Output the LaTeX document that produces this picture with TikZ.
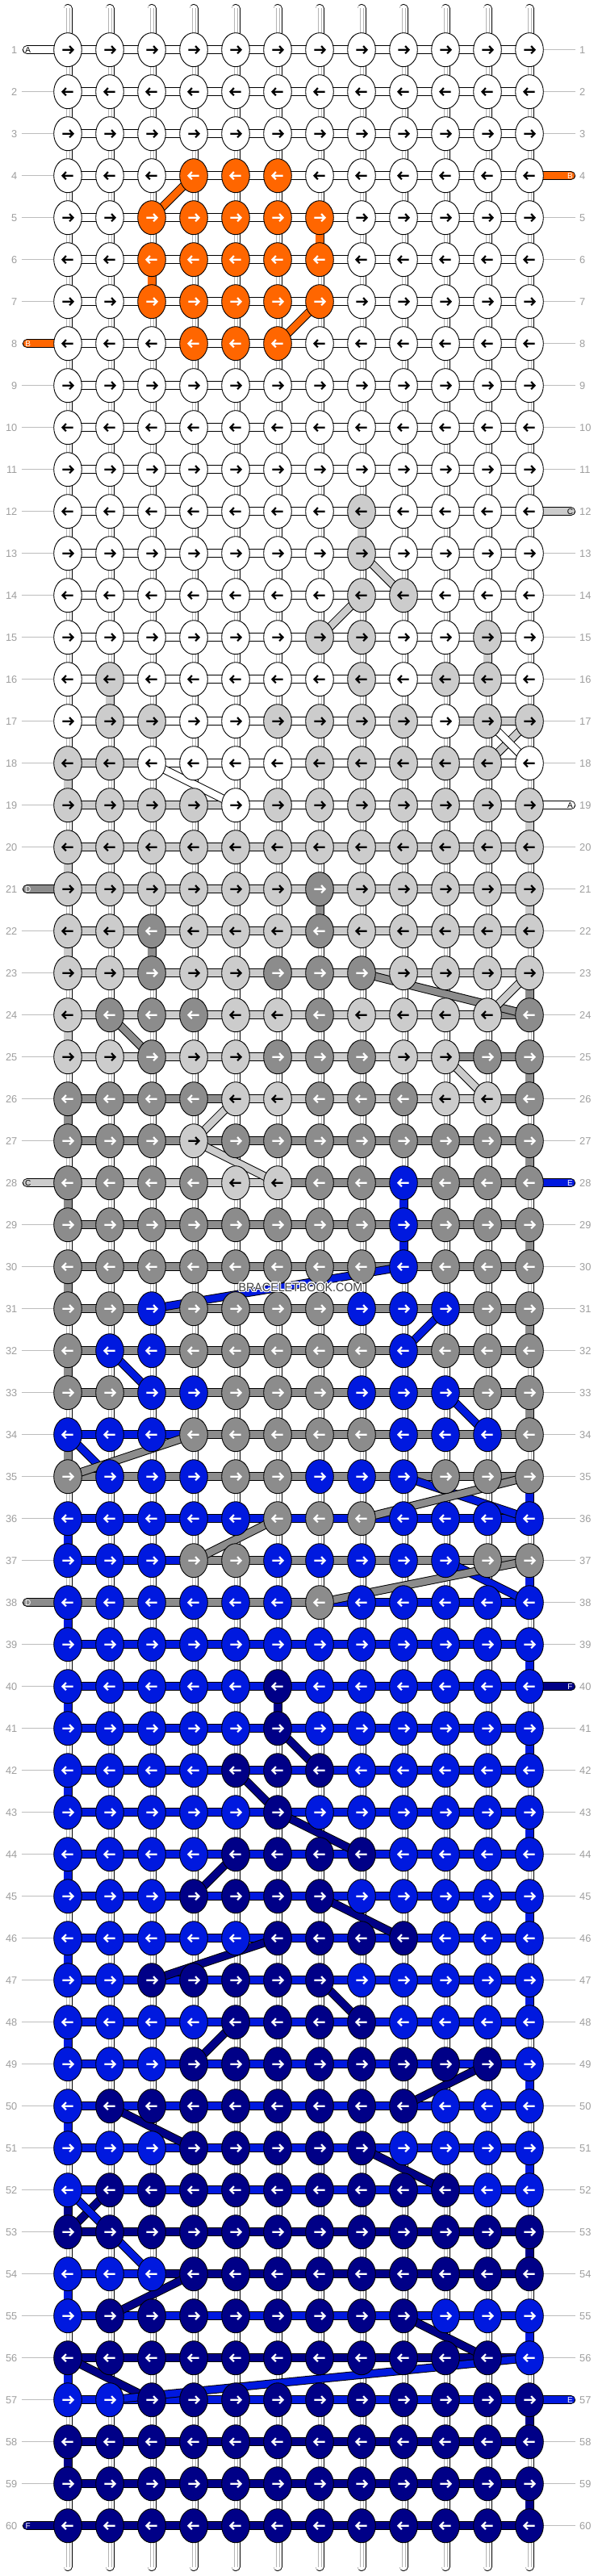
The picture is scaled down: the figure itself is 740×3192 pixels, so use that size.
\documentclass[tikz,border=0pt]{standalone}
\usepackage{fontspec}
\setmainfont{Liberation Sans}
\usetikzlibrary{shapes.geometric}
\definecolor{cW}{HTML}{FFFFFF}
\definecolor{cO}{HTML}{FF6600}
\definecolor{cL}{HTML}{CCCCCC}
\definecolor{cD}{HTML}{8C8C8C}
\definecolor{cB}{HTML}{0019DF}
\definecolor{cN}{HTML}{000087}
\colorlet{aW}{black}\colorlet{aL}{black}\colorlet{aO}{white}
\colorlet{aD}{white}\colorlet{aB}{white}\colorlet{aN}{white}
\definecolor{labgray}{HTML}{9E9E9E}
\definecolor{linegray}{HTML}{BDBDBD}
\definecolor{strand}{HTML}{B4B4B4}
\definecolor{wmark}{HTML}{404040}
\pgfdeclarelayer{bg}\pgfdeclarelayer{conn}\pgfdeclarelayer{diag}
\pgfsetlayers{bg,conn,diag,main}
\tikzset{
 knot/.style={ellipse, draw=black, line width=0.9pt, minimum width=34.6pt, minimum height=42pt, inner sep=0pt, outer sep=0pt},
 arrowline/.style={line width=2.2pt, line cap=butt, line join=miter},
 barout/.style={line width=11pt, draw=black},
 barin/.style={line width=9.2pt},
 capout/.style={line width=11pt, draw=black, line cap=round},
 capin/.style={line width=9.2pt, line cap=round},
 diagout/.style={line width=10.5pt, draw=black},
 diagin/.style={line width=8.5pt},
 strandline/.style={draw=strand, line width=0.8pt},
 rownum/.style={font=\fontsize{12.8}{13}\selectfont, text=labgray, inner sep=0pt},
 labline/.style={draw=linegray, line width=0.9pt},
 stubletter/.style={font=\fontsize{10}{11}\selectfont, inner sep=0pt},
 wmtext/.style={font=\fontsize{15}{15}\selectfont, inner sep=0pt, xscale=0.95},
}
\begin{document}
\begin{tikzpicture}[x=1pt,y=-1pt]
\useasboundingbox (0,0) rectangle (740,3192);
\begin{pgfonlayer}{bg}
\fill[white] (0,0) rectangle (740,3192);
\end{pgfonlayer}
% grid points
\foreach \r in {1,...,60}{
 \foreach \k in {1,...,12}{
  \coordinate (p-\r-\k) at ({84+52*(\k-1)},{61.7+52*(\r-1)});
 }
}
\foreach \k in {1,...,12}{
  \coordinate (t-\k) at ({84+52*(\k-1)},10.5);
  \coordinate (b-\k) at ({84+52*(\k-1)},3180.5);
}
% knots
\foreach \r/\cols in {
1/{W,W,W,W,W,W,W,W,W,W,W,W},
2/{W,W,W,W,W,W,W,W,W,W,W,W},
3/{W,W,W,W,W,W,W,W,W,W,W,W},
4/{W,W,W,O,O,O,W,W,W,W,W,W},
5/{W,W,O,O,O,O,O,W,W,W,W,W},
6/{W,W,O,O,O,O,O,W,W,W,W,W},
7/{W,W,O,O,O,O,O,W,W,W,W,W},
8/{W,W,W,O,O,O,W,W,W,W,W,W},
9/{W,W,W,W,W,W,W,W,W,W,W,W},
10/{W,W,W,W,W,W,W,W,W,W,W,W},
11/{W,W,W,W,W,W,W,W,W,W,W,W},
12/{W,W,W,W,W,W,W,L,W,W,W,W},
13/{W,W,W,W,W,W,W,L,W,W,W,W},
14/{W,W,W,W,W,W,W,L,L,W,W,W},
15/{W,W,W,W,W,W,L,L,W,W,L,W},
16/{W,L,W,W,W,W,W,L,W,L,L,W},
17/{W,L,L,W,W,L,L,L,L,W,L,L},
18/{L,L,W,W,W,W,L,L,L,L,L,W},
19/{L,L,L,L,W,L,L,L,L,L,L,L},
20/{L,L,L,L,L,L,L,L,L,L,L,L},
21/{L,L,L,L,L,L,D,L,L,L,L,L},
22/{L,L,D,L,L,L,D,L,L,L,L,L},
23/{L,L,D,L,L,D,D,D,L,L,L,L},
24/{L,D,D,D,L,L,D,L,L,L,L,D},
25/{L,L,D,L,L,D,D,D,L,L,D,D},
26/{D,D,D,D,L,L,D,D,D,L,L,D},
27/{D,D,D,L,D,D,D,D,D,D,D,D},
28/{D,D,D,D,L,L,D,D,B,D,D,D},
29/{D,D,D,D,D,D,D,D,B,D,D,D},
30/{D,D,D,D,D,D,D,D,B,D,D,D},
31/{D,D,B,D,D,D,D,B,B,B,D,D},
32/{D,B,B,D,D,D,D,D,B,D,D,D},
33/{D,D,B,B,D,D,D,B,B,B,D,D},
34/{B,B,B,D,D,D,D,D,B,B,B,D},
35/{D,B,B,B,D,D,B,B,B,D,D,D},
36/{B,B,B,B,B,D,D,D,B,B,B,B},
37/{B,B,B,D,D,B,B,B,B,B,D,D},
38/{B,B,B,B,B,B,D,B,B,B,B,B},
39/{B,B,B,B,B,B,B,B,B,B,B,B},
40/{B,B,B,B,B,N,B,B,B,B,B,B},
41/{B,B,B,B,B,N,B,B,B,B,B,B},
42/{B,B,B,B,N,N,N,B,B,B,B,B},
43/{B,B,B,B,B,N,B,B,B,B,B,B},
44/{B,B,B,B,N,N,N,N,B,B,B,B},
45/{B,B,B,N,N,N,N,B,B,B,B,B},
46/{B,B,B,B,B,N,N,N,N,B,B,B},
47/{B,B,N,N,N,N,N,B,B,B,B,B},
48/{B,B,B,B,N,N,N,N,B,B,B,B},
49/{B,B,B,N,N,N,N,N,N,N,N,B},
50/{B,N,N,N,N,N,N,N,N,B,B,B},
51/{B,B,B,N,N,N,N,N,B,B,B,B},
52/{B,N,N,N,N,N,N,N,N,N,B,B},
53/{N,N,N,N,N,N,N,N,N,N,N,N},
54/{B,B,B,N,N,N,N,N,N,N,N,N},
55/{B,N,N,N,N,N,N,N,N,B,B,B},
56/{N,N,N,N,N,N,N,N,N,N,N,B},
57/{B,B,N,N,N,N,N,N,N,N,N,N},
58/{N,N,N,N,N,N,N,N,N,N,N,N},
59/{N,N,N,N,N,N,N,N,N,N,N,N},
60/{N,N,N,N,N,N,N,N,N,N,N,N}}{
  \pgfmathsetmacro\dir{ifthenelse(mod(\r,2)==1,1,-1)}
  \foreach \c [count=\k] in \cols {
    \node[knot, fill=c\c] (k-\r-\k) at (p-\r-\k) {};
    \draw[arrowline, draw=a\c, shift={(p-\r-\k)}, xscale=\dir] (-6.7,0) -- (5.6,0) (2.1,-4.6) -- (6.5,0) -- (2.1,4.6);
  }
}
% row labels
\foreach \r in {1,...,60}{
  \node[rownum, anchor=east] (ll-\r) at ([xshift=-62.5pt]p-\r-1) {\r};
  \node[rownum, anchor=west] (lr-\r) at ([xshift=62pt]p-\r-12) {\r};
}
\begin{pgfonlayer}{conn}
% label lines
\foreach \r in {1,...,60}{
  \draw[labline] ([xshift=-57.3pt]p-\r-1) -- (k-\r-1);
  \draw[labline] (k-\r-12) -- ([xshift=57pt]p-\r-12);
}
% top and bottom thread ends
\foreach \k in {1,...,12}{
  \draw[capout] (t-\k) -- (k-1-\k.center);
  \draw[capin, white] (t-\k) -- (k-1-\k.center);
  \draw[strandline] ([xshift=-2pt]t-\k) -- ([xshift=-2pt]k-1-\k.center) ([xshift=2pt]t-\k) -- ([xshift=2pt]k-1-\k.center);
  \draw[capout] (k-60-\k.center) -- (b-\k);
  \draw[capin, white] (k-60-\k.center) -- (b-\k);
  \draw[strandline] ([xshift=-2pt]k-60-\k.center) -- ([xshift=-2pt]b-\k) ([xshift=2pt]k-60-\k.center) -- ([xshift=2pt]b-\k);
}
% vertical connectors
\foreach \r in {1,...,59}{
  \pgfmathtruncatemacro\rn{\r+1}
  \foreach \k in {1,...,12}{
    \draw[barout] (k-\r-\k.center) -- (k-\rn-\k.center);
    \draw[barin, white] (k-\r-\k.center) -- (k-\rn-\k.center);
    \draw[strandline] ([xshift=-2pt]k-\r-\k.center) -- ([xshift=-2pt]k-\rn-\k.center) ([xshift=2pt]k-\r-\k.center) -- ([xshift=2pt]k-\rn-\k.center);
  }
}
% filled vertical connectors
\foreach \r/\k/\c in {5/7/O,6/3/O,12/8/L,15/11/L,16/2/L,21/7/D,22/3/D,28/9/B,29/9/B,40/6/N,
18/1/L,19/12/L,20/1/L,21/12/L,22/1/L,23/12/D,24/1/L,25/12/D,26/1/D,27/12/D,28/1/D,29/12/D,30/1/D,31/12/D,32/1/D,33/12/D,34/1/D,35/12/B,36/1/B,37/12/B,38/1/B,39/12/B,40/1/B,41/12/B,42/1/B,43/12/B,44/1/B,45/12/B,46/1/B,47/12/B,48/1/B,49/12/B,50/1/B,51/12/B,52/1/N,53/12/N,54/1/B,55/12/B,56/1/B,57/12/N,58/1/N,59/12/N}{
  \pgfmathtruncatemacro\rn{\r+1}
  \draw[barin, draw=c\c] (k-\r-\k.center) -- (k-\rn-\k.center);
}
% horizontal connectors
\foreach \r/\cols in {
1/{W,W,W,W,W,W,W,W,W,W,W},
2/{W,W,W,W,W,W,W,W,W,W,W},
3/{W,W,W,W,W,W,W,W,W,W,W},
4/{W,W,W,W,W,W,W,W,W,W,W},
5/{W,W,W,W,W,W,W,W,W,W,W},
6/{W,W,W,W,W,W,W,W,W,W,W},
7/{W,W,W,W,W,W,W,W,W,W,W},
8/{W,W,W,W,W,W,W,W,W,W,W},
9/{W,W,W,W,W,W,W,W,W,W,W},
10/{W,W,W,W,W,W,W,W,W,W,W},
11/{W,W,W,W,W,W,W,W,W,W,W},
12/{W,W,W,W,W,W,W,W,W,W,W},
13/{W,W,W,W,W,W,W,W,W,W,W},
14/{W,W,W,W,W,W,W,W,W,W,W},
15/{W,W,W,W,W,W,W,W,W,W,W},
16/{W,W,W,W,W,W,W,W,W,W,W},
17/{W,W,W,W,W,W,W,W,W,L,L},
18/{L,L,W,W,W,W,W,W,W,W,W},
19/{L,L,L,L,W,W,W,W,W,W,W},
20/{L,L,L,L,L,L,L,L,L,L,L},
21/{L,L,L,L,L,L,L,L,L,L,L},
22/{L,L,L,L,L,L,L,L,L,L,L},
23/{L,L,L,L,L,L,L,L,L,L,L},
24/{L,L,L,L,L,L,L,L,L,L,D},
25/{L,L,L,L,L,L,L,L,L,D,D},
26/{D,D,D,D,L,L,L,L,L,L,D},
27/{D,D,D,D,D,D,D,D,D,D,D},
28/{L,L,L,L,L,D,D,D,D,D,D},
29/{D,D,D,D,D,D,D,D,D,D,D},
30/{D,D,D,D,D,D,D,D,D,D,D},
31/{D,D,D,D,D,D,D,D,D,D,D},
32/{D,D,D,D,D,D,D,D,D,D,D},
33/{D,D,D,D,D,D,D,D,D,D,D},
34/{B,B,B,D,D,D,D,D,D,D,D},
35/{D,D,D,D,D,D,D,D,D,D,D},
36/{B,B,B,B,B,B,B,B,B,B,B},
37/{B,B,B,D,D,D,D,D,D,D,D},
38/{D,D,D,D,D,D,B,B,B,B,B},
39/{B,B,B,B,B,B,B,B,B,B,B},
40/{B,B,B,B,B,B,B,B,B,B,B},
41/{B,B,B,B,B,B,B,B,B,B,B},
42/{B,B,B,B,B,B,B,B,B,B,B},
43/{B,B,B,B,B,B,B,B,B,B,B},
44/{B,B,B,B,B,B,B,B,B,B,B},
45/{B,B,B,B,B,B,B,B,B,B,B},
46/{B,B,B,B,B,B,B,B,B,B,B},
47/{B,B,B,B,B,B,B,B,B,B,B},
48/{B,B,B,B,B,B,B,B,B,B,B},
49/{B,B,B,B,B,B,B,B,B,B,B},
50/{B,B,B,B,B,B,B,B,B,B,B},
51/{B,B,B,B,B,B,B,B,B,B,B},
52/{B,B,B,B,B,B,B,B,B,B,B},
53/{N,N,N,N,N,N,N,N,N,N,N},
54/{B,B,N,N,N,N,N,N,N,N,N},
55/{B,B,B,B,B,B,B,B,B,B,B},
56/{N,N,N,N,N,N,N,N,N,N,N},
57/{B,B,B,B,B,B,B,B,B,B,B},
58/{N,N,N,N,N,N,N,N,N,N,N},
59/{N,N,N,N,N,N,N,N,N,N,N},
60/{N,N,N,N,N,N,N,N,N,N,N}}{
  \foreach \c [count=\k] in \cols {
    \pgfmathtruncatemacro\kn{\k+1}
    \draw[barout] (k-\r-\k.center) -- (k-\r-\kn.center);
    \draw[barin, draw=c\c] (k-\r-\k.center) -- (k-\r-\kn.center);
  }
}
% thread ends with letters, left side
\foreach \r/\t/\c in {1/A/W,8/B/O,21/D/D,28/C/L,38/D/D,60/F/N}{
  \coordinate (sl-\r) at ([xshift=-50.5pt]p-\r-1);
  \draw[capout] (sl-\r) -- (k-\r-1.center);
  \draw[capin, draw=c\c] (sl-\r) -- (k-\r-1.center);
  \node[stubletter, text=a\c] (tl-\r) at ([xshift=1.2pt]sl-\r) {\t};
}
% thread ends with letters, right side
\foreach \r/\t/\c in {4/B/O,12/C/L,19/A/W,28/E/B,40/F/N,57/E/B}{
  \coordinate (sr-\r) at ([xshift=51.5pt]p-\r-12);
  \draw[capout] (k-\r-12.center) -- (sr-\r);
  \draw[capin, draw=c\c] (k-\r-12.center) -- (sr-\r);
  \node[stubletter, text=a\c] (tr-\r) at ([xshift=-1pt]sr-\r) {\t};
}
\end{pgfonlayer}
% diagonal thread moves
\begin{pgfonlayer}{diag}
\foreach \ra/\ka/\rb/\kb/\c in {4/4/5/3/O,7/7/8/6/O,
13/8/14/9/L,14/8/15/7/L,17/12/18/11/L,17/11/18/12/W,18/3/19/5/W,
23/8/24/12/D,23/12/24/11/L,24/2/25/3/D,25/10/26/11/L,26/5/27/4/L,27/4/28/6/L,
30/9/31/3/B,31/10/32/9/B,32/2/33/3/B,33/10/34/11/B,34/1/35/2/B,34/4/35/1/D,
35/9/36/12/B,35/12/36/8/D,36/6/37/4/D,37/10/38/12/B,37/12/38/7/D,
41/6/42/7/N,42/5/43/6/N,43/6/44/8/N,44/5/45/4/N,45/7/46/9/N,46/6/47/3/N,47/7/48/8/N,48/5/49/4/N,
49/11/50/9/N,50/2/51/4/N,51/8/52/10/N,52/2/53/1/N,52/1/54/3/B,54/4/55/2/N,55/9/56/11/N,56/1/57/3/N,56/12/57/2/B}{
  \draw[diagout] (k-\ra-\ka.center) -- (k-\rb-\kb.center);
  \draw[diagin, draw=c\c] (k-\ra-\ka.center) -- (k-\rb-\kb.center);
}
\end{pgfonlayer}
% watermark with white halo
\coordinate (wmc) at (372.5,1595);
\foreach \dx/\dy in {-1.2/0,1.2/0,0/-1.2,0/1.2,-0.9/-0.9,0.9/-0.9,-0.9/0.9,0.9/0.9}{
  \node[wmtext, text=white] at ([xshift=\dx pt, yshift=\dy pt]wmc) {BRACELETBOOK.COM};
}
\node[wmtext, text=wmark] (wm) at (wmc) {BRACELETBOOK.COM};
\end{tikzpicture}
\end{document}
